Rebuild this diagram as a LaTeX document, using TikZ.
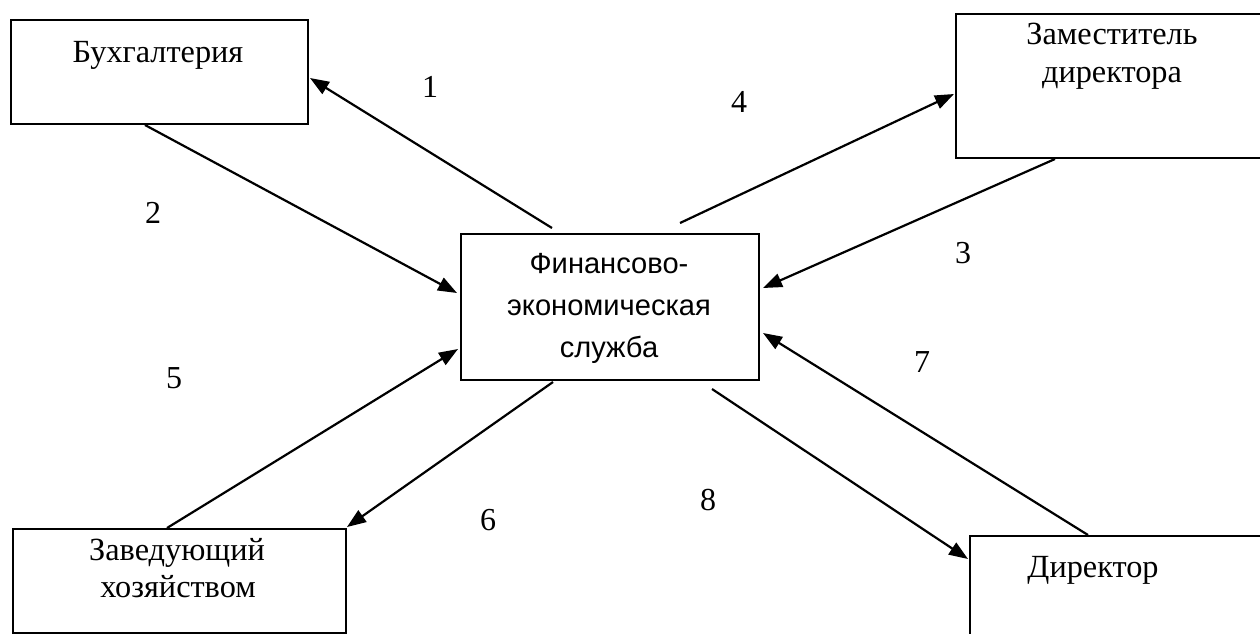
\documentclass[tikz,border=0pt]{standalone}
\usepackage{fontspec}
\setmainfont{Liberation Serif}
\newfontfamily\arialf{Liberation Sans}
\usetikzlibrary{arrows.meta,calc}
\tikzset{
  box/.style={draw, line width=2pt, inner sep=0pt, anchor=north west},
  lbl/.style={anchor=base, inner sep=0pt, font=\fontsize{32.3}{38}\selectfont},
  ctr/.style={anchor=base, inner sep=0pt, font=\arialf\fontsize{29.1}{34}\selectfont},
  num/.style={anchor=center, inner sep=0pt, font=\fontsize{32}{38}\selectfont},
  arr/.style={line width=2.2pt, -{Triangle[length=19pt,width=14pt]}}
}
\begin{document}
\begin{tikzpicture}[x=1pt,y=-1pt]
\useasboundingbox (0,0) rectangle (1260,633);
\clip (0,0) rectangle (1260,633);
\fill[white] (0,0) rectangle (1260,633);
% boxes
\node[box, minimum width=297pt, minimum height=104pt] (buh) at (10,19) {};
\node[box, minimum width=340pt, minimum height=144pt] (zam) at (955,13) {};
\node[box, minimum width=298pt, minimum height=146pt] (fin) at (460,233) {};
\node[box, minimum width=333pt, minimum height=104pt] (zav) at (12,528) {};
\node[box, minimum width=330pt, minimum height=140pt] (dir) at (969,535) {};
% texts
\node[lbl] (tbuh) at (158,62) {Бухгалтерия};
\node[lbl] (tzam1) at (1112,44) {Заместитель};
\node[lbl] (tzam2) at (1112,82) {директора};
\node[ctr] (tfin1) at (609,273) {Финансово-};
\node[ctr] (tfin2) at (609,315) {экономическая};
\node[ctr] (tfin3) at (609,357) {служба};
\node[lbl] (tzav1) at (177,560) {Заведующий};
\node[lbl] (tzav2) at (178,597) {хозяйством};
\node[lbl] (tdir) at (1093,577) {Директор};
% numbers
\node[num] (n1) at (430,87) {1};
\node[num] (n2) at (153,213) {2};
\node[num] (n3) at (963,253) {3};
\node[num] (n4) at (739,102) {4};
\node[num] (n5) at (174,378) {5};
\node[num] (n6) at (488,520) {6};
\node[num] (n7) at (922,362) {7};
\node[num] (n8) at (708,500) {8};
% arrows
\draw[arr] ($(fin.north west)+(92,-5)$) -- ($(buh.north east)+(1,59)$);
\draw[arr] ($(buh.south west)+(135,0)$) -- ($(fin.north west)+(-3,60)$);
\draw[arr] ($(zam.south west)+(100,0)$) -- ($(fin.north east)+(3,55)$);
\draw[arr] ($(fin.north west)+(220,-10)$) -- ($(zam.north west)+(-1,81)$);
\draw[arr] ($(zav.north west)+(155,0)$) -- ($(fin.north west)+(-2,116)$);
\draw[arr] ($(fin.south west)+(93,1)$) -- ($(zav.north east)+(0,-1)$);
\draw[arr] ($(dir.north west)+(119,0)$) -- ($(fin.north east)+(3,100)$);
\draw[arr] ($(fin.south west)+(252,8)$) -- ($(dir.north west)+(-1,24)$);
\end{tikzpicture}
\end{document}
